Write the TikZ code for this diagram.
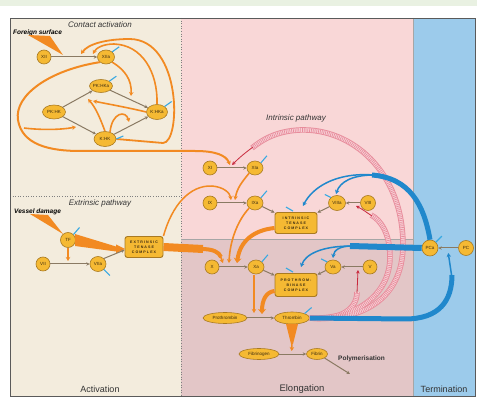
\documentclass[tikz,border=0pt]{standalone}
\usepackage{fontspec}
\setmainfont{Liberation Sans}
\newfontfamily\boxfont[LetterSpace=30]{Liberation Sans}
\usetikzlibrary{shapes.geometric,arrows.meta,calc}
\definecolor{beige}{HTML}{F3ECDD}
\definecolor{lpink}{HTML}{F9D7D7}
\definecolor{mauve}{HTML}{E3C6C7}
\definecolor{tblue}{HTML}{9CCBEB}
\definecolor{nfill}{HTML}{F5B933}
\definecolor{nline}{HTML}{A97A22}
\definecolor{orng}{HTML}{F28A22}
\definecolor{convc}{HTML}{8A7A63}
\definecolor{bluea}{HTML}{2088CC}
\definecolor{tickc}{HTML}{38A9E2}
\definecolor{pinkband}{HTML}{E88D9C}
\definecolor{pinkin}{HTML}{F8D2D8}
\definecolor{redarr}{HTML}{C8283C}
\definecolor{framec}{HTML}{5A5A5A}
\definecolor{greenbg}{HTML}{E9F1E2}
\definecolor{txtc}{HTML}{3A2A10}
\tikzset{
  fac/.style={circle, draw=nline, fill=nfill, line width=0.6pt, minimum size=14pt, inner sep=0pt, text=txtc, font=\fontsize{4.5}{5}\selectfont},
  fel/.style={ellipse, draw=nline, fill=nfill, line width=0.6pt, minimum width=18pt, minimum height=14pt, inner sep=0pt, text=txtc, font=\fontsize{4.5}{5}\selectfont},
  cplx/.style={rectangle, rounded corners=2.5pt, draw=nline, fill=nfill, line width=0.9pt, minimum width=42pt, minimum height=21pt, inner sep=0pt, align=center, text=txtc, font=\boxfont\bfseries\fontsize{3.6}{5.2}\selectfont},
  conv/.style={draw=convc, line width=1pt, -{Stealth[length=3.5pt,width=3.5pt]}},
  act/.style={draw=orng, line width=1.6pt, -{Stealth[length=4pt,width=4.5pt]}},
  bigact/.style={draw=orng, line width=4pt, -{Stealth[length=5pt,width=8pt]}},
  barr/.style={draw=bluea, line width=1.5pt, -{Stealth[length=4pt,width=4.5pt]}},
  bband/.style={draw=bluea, line width=5pt},
  rarr/.style={draw=redarr, line width=0.8pt, -{Stealth[length=3.5pt,width=3.5pt]}},
  tk/.style={draw=tickc, line width=1.1pt},
  lbl/.style={text=black!80, inner sep=0pt},
  pbo/.style={draw=pinkband, line width=5.5pt},
  pbi/.style={draw=pinkin, line width=3.6pt},
  pbd/.style={draw=pinkband, line width=3.6pt, dash pattern=on 0.7pt off 1.1pt},
}
\begin{document}
\begin{tikzpicture}[x=1pt,y=-1pt]
\useasboundingbox (0,0) rectangle (477,398);
% backgrounds
\fill[white] (0,0) rectangle (477,398);
\fill[greenbg] (0,0) rectangle (477,6);
\fill[beige] (10,18) rectangle (181,396);
\fill[lpink] (181,18) rectangle (413,239);
\fill[mauve] (181,239) rectangle (413,396);
\fill[tblue] (413,18) rectangle (475,396);
\draw[gray, dotted, line width=0.6pt] (10,196) -- (181,196);
\draw[gray, dotted, line width=0.6pt] (181,18) -- (181,396);
\draw[gray!70, line width=0.6pt] (181,239) -- (413,239);
\draw[gray!70, line width=0.6pt] (413,18) -- (413,396);
\draw[framec, line width=0.8pt] (10,18) rectangle (475,396);

% labels
\node[lbl, font=\itshape\fontsize{8}{9}\selectfont] (tca) at (100,25) {Contact activation};
\node[lbl, anchor=west, font=\bfseries\itshape\fontsize{6.5}{7}\selectfont, text=black] (tfs) at (13,33) {Foreign surface};
\node[lbl, font=\itshape\fontsize{8}{9}\selectfont] (tep) at (100,203) {Extrinsic pathway};
\node[lbl, anchor=west, font=\bfseries\itshape\fontsize{6.5}{7}\selectfont, text=black] (tvd) at (14,212) {Vessel damage};
\node[lbl, font=\itshape\fontsize{8}{9}\selectfont] (tip) at (296,118) {Intrinsic pathway};
\node[lbl, anchor=west, font=\bfseries\fontsize{6.5}{7}\selectfont] (tpol) at (338,359) {Polymerisation};
\node[lbl, font=\fontsize{9}{10}\selectfont] (tact) at (100,389) {Activation};
\node[lbl, font=\fontsize{9.5}{10}\selectfont] (telo) at (302,389) {Elongation};
\node[lbl, font=\fontsize{9}{10}\selectfont] (tter) at (444,389) {Termination};

% nodes
\node[fac] (XII) at (44,57) {XII};
\node[fel, minimum width=17pt] (XIIa) at (106,57) {XIIa};
\node[fel, minimum width=23pt, minimum height=13pt] (PKHKa) at (101,86) {PK:HKa};
\node[fel, minimum width=23pt, minimum height=14pt] (PKHK) at (54,112) {PK:HK};
\node[fel, minimum width=21pt, minimum height=15pt] (KHKa) at (157,112) {K:HKa};
\node[fel, minimum width=22pt, minimum height=15pt] (KHK) at (105,139) {K:HK};

\node[fac, minimum size=15pt] (TF) at (68,240) {TF};
\node[fac] (VII) at (43,264) {VII};
\node[fel, minimum width=16pt, minimum height=15pt] (VIIa) at (98,264) {VIIa};
\node[cplx, minimum width=38pt] (ETC) at (144,247) {EXTRINSIC\\TENASE\\COMPLEX};

\node[fac] (XI) at (210,168) {XI};
\node[fel, minimum width=16pt] (XIa) at (255,168) {XIa};
\node[fac] (IX) at (210,203) {IX};
\node[fel, minimum width=16pt] (IXa) at (255,203) {IXa};
\node[cplx] (ITC) at (296,223) {INTRINSIC\\TENASE\\COMPLEX};
\node[fel, minimum width=17pt, minimum height=15pt] (VIIIa) at (337,203) {VIIIa};
\node[fac, minimum size=15pt] (VIII) at (368,203) {VIII};

\node[fac] (X) at (212,267) {X};
\node[fel, minimum width=16pt] (Xa) at (256,267) {Xa};
\node[cplx, minimum height=23pt] (PTC) at (296,285) {PROTHROM-\\BINASE\\COMPLEX};
\node[fel, minimum width=16pt] (Va) at (333,267) {Va};
\node[fac] (V) at (370,267) {V};

\node[fel, minimum width=44pt, minimum height=11pt] (PRO) at (225,318) {Prothrombin};
\node[fel, minimum width=35pt, minimum height=12pt] (THR) at (292,318) {Thrombin};
\node[fel, minimum width=40pt, minimum height=11pt] (FBG) at (259,354) {Fibrinogen};
\node[fel, minimum width=21pt, minimum height=11pt] (FIB) at (317,354) {Fibrin};

\node[fac, minimum size=16pt] (PCa) at (430,248) {PCa};
\node[fac, minimum size=15pt] (PC) at (466,248) {PC};

% midpoints of conversions
\coordinate (mXII) at ($(XII.east)!0.55!(XIIa.west)$);
\coordinate (mXI) at ($(XI.east)!0.5!(XIa.west)$);
\coordinate (mIX) at ($(IX.east)!0.5!(IXa.west)$);
\coordinate (mVIII) at ($(VIII.west)!0.5!(VIIIa.east)$);
\coordinate (mV) at ($(V.west)!0.5!(Va.east)$);
\coordinate (mPC) at ($(PC.west)!0.5!(PCa.east)$);
\coordinate (mFB) at ($(FBG.east)!0.5!(FIB.west)$);
\coordinate (pend) at (350,374);

% ---------- pink hatched arcs from thrombin ----------
\foreach \s in {pbo,pbi,pbd}{
  \draw[\s] (THR.east) .. controls (360,322) and (403,300) .. (403,245) .. controls (403,172) and (352,128) .. (300,130) .. controls (276,131) and (262,140) .. (252,148);
  \draw[\s] (THR.east) .. controls (355,320) and (390,295) .. (390,257) .. controls (390,234) and (381,220) .. (371,215);
  \draw[\s] (THR.east) .. controls (335,321) and (357,312) .. (357,292);
}
\draw[rarr] (253,147) .. controls (245,153) and (240,157) .. ($(mXI)+(0,-3)$);
\draw[rarr] (372,216) .. controls (366,212) and (362,209) .. ($(mVIII)+(3,3)$);
\draw[rarr] (357,293) -- ($(mV)+(6,3)$);

% ---------- blue (protein C) ----------
\draw[bband] (PCa.north) .. controls (424,205) and (410,178) .. (372,175);
\draw[barr] (374,175) .. controls (352,175) and (340,182) .. (336,194);
\draw[barr] (374,175) .. controls (335,172) and (312,188) .. (303,206);
\draw[bband, line width=6pt] (PCa.west) -- (350,246);
\draw[barr] (352,246) .. controls (340,246) and (334,250) .. (333,258);
\draw[barr] (352,246) .. controls (320,246) and (305,255) .. (301,267);
\draw[bband] (THR.east) -- (405,319) .. controls (440,319) and (452,300) .. (452,275);
\draw[barr] (452,278) -- ($(mPC)+(0,5)$);

% ---------- contact activation ----------
\fill[orng] (28,35) -- (50,36) -- (63,55) -- cycle;
\draw[conv] (XII) -- (XIIa);
\draw[conv] (PKHK) -- (PKHKa);
\draw[conv] (PKHK) -- (KHK);
\draw[conv] (PKHKa) -- (KHKa);
\draw[conv] (KHK) -- (KHKa);
\draw[act, line width=1.8pt] (KHK.east) -- (163,143) .. controls (181,143) and (182,40) .. (130,39) .. controls (106,39) and (88,44) .. (81,54);
\draw[act] (KHKa.north) .. controls (158,72) and (142,45) .. (114,44) .. controls (103,44) and (96,48) .. (93,54);
\draw[act] (XIIa.south east) .. controls (125,70) and (132,80) .. (131,96);
\draw[act, line width=2pt] (XIIa.south west) .. controls (50,70) and (14,95) .. (18,120) .. controls (22,145) and (50,151) .. (80,151) -- (195,151) .. controls (215,151) and (226,155) .. ($(mXI)+(-2,-3)$);
\draw[act] (24,128) .. controls (40,130) and (60,130) .. (76,127);
\draw[act] (KHK.north) .. controls (100,118) and (96,108) .. (88,99);
\draw[act] (KHKa.west) .. controls (130,108) and (108,104) .. (93,101);
\draw[act] ($(KHK.north)+(5,1)$) .. controls (112,112) and (126,110) .. (129,122);
\draw[tk] (XIIa.north east) -- ++(7,-5);
\draw[tk] (PKHKa.north east) -- ++(7,-5);
\draw[tk] (KHKa.north east) -- ++(7,-5);
\draw[tk] (KHK.east) -- ++(7,-3);

% ---------- extrinsic ----------
\fill[orng] (30,214) -- (48,215) -- (63,234) -- cycle;
\fill[orng] (75,234) -- (116,246.5) -- (116,244.5) -- (125,249) -- (116,253.5) -- (116,251.5) -- (75,246) -- cycle;
\draw[act] (TF.south) -- (68,261);
\draw[conv] (VII) -- (VIIa);
\draw[conv] (VIIa.north east) -- ($(ETC.west)+(0,3)$);
\draw[orng, line width=8pt] (ETC.east) -- (203,249);
\draw[orng, line width=4pt] (201,249) .. controls (213,249) and (219,252) .. (221,257);
\draw[act] (220,255) -- (223,263);
\draw[act, line width=1.5pt] (ETC.north east) .. controls (172,205) and (190,185) .. (212,186) .. controls (224,187) and (230,193) .. ($(mIX)+(-1,-3)$);
\draw[tk] (TF.north east) -- ++(6,-7);
\draw[tk] (VIIa.south east) -- ++(6,6);

% ---------- intrinsic ----------
\draw[conv] (XI) -- (XIa);
\draw[conv] (IX) -- (IXa);
\draw[conv] (VIII) -- (VIIIa);
\draw[conv] (IXa) -- (ITC);
\draw[conv] (VIIIa) -- (ITC);
\draw[act] (XIa.south west) .. controls (242,182) and (237,188) .. ($(mIX)+(3,-3)$);
\draw[act] (IXa.south west) .. controls (238,220) and (230,240) .. (229,263);
\draw[bigact] ($(ITC.west)+(0,5)$) .. controls (255,230) and (240,240) .. (237,263);
\draw[tk] (XIa.north east) -- ++(6,-7);
\draw[tk] (IXa.north east) -- ++(6,-7);
\draw[tk] (VIIIa.north west) -- ++(-6,-3);
\draw[tk] ($(ITC.north)+(-3,-1)$) -- ++(-7,-4);

% ---------- common pathway ----------
\draw[conv] (X) -- (Xa);
\draw[conv] (Xa) -- (PTC);
\draw[conv] (Va) -- (PTC);
\draw[conv] (V) -- (Va);
\draw[conv] (PRO) -- (THR);
\draw[conv] (FBG) -- (FIB);
\draw[conv] (FIB.south east) -- (pend);
\draw[act] (254,275) -- (254,313);
\draw[bigact] ($(PTC.west)+(0,6)$) .. controls (266,292) and (262,300) .. (262,314);
\fill[orng] (286,324) -- (298,324) -- (293,344) -- (291,344) -- cycle;
\draw[act] (292,342) -- ($(mFB)+(-1,-3)$);
\draw[tk] (Xa.north east) -- ++(6,-7);
\draw[tk] (THR.north east) -- ++(7,-6);
\draw[tk] (Va.north west) -- ++(-6,-3);
\draw[tk] ($(PTC.north)+(-3,-1)$) -- ++(-7,-4);
\draw[tk] (PCa.north east) -- ++(6,-6);
\draw[conv] (PC) -- (PCa);
\end{tikzpicture}
\end{document}
